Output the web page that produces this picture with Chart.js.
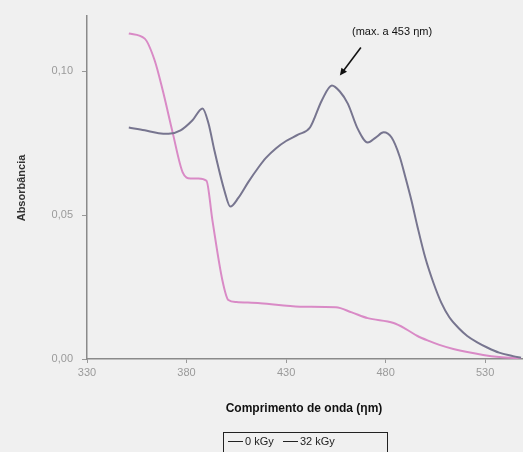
<!DOCTYPE html>
<html>
<head>
<meta charset="utf-8">
<script src="https://cdn.jsdelivr.net/npm/chart.js@4/dist/chart.umd.min.js"></script>
<style>
  html, body { margin: 0; padding: 0; background: #f0f0f0; }
  #wrap { width: 523px; height: 452px; }
</style>
</head>
<body>
<div id="wrap"><canvas id="c" width="523" height="452"></canvas></div>
<script>
// Absorption spectra (wavelength in nm, absorbance)
const wl0kGy = [351, 359, 366, 371, 377, 383, 388, 391, 394, 399, 402, 406, 411, 416, 420, 425, 430, 436, 442, 448, 453, 457, 461, 466, 471, 475, 479, 483, 487, 490, 493, 496, 500, 504, 508, 512, 517, 521, 526, 531, 537, 544, 548];
const abs0kGy = [0.0805, 0.0795, 0.0785, 0.0783, 0.0795, 0.0830, 0.0871, 0.0820, 0.0725, 0.0586, 0.0530, 0.0560, 0.0615, 0.0665, 0.0700, 0.0733, 0.0758, 0.0780, 0.0805, 0.0900, 0.0951, 0.0930, 0.0888, 0.0800, 0.0753, 0.0770, 0.0788, 0.0770, 0.0705, 0.0630, 0.0550, 0.0460, 0.0350, 0.0265, 0.0195, 0.0145, 0.0105, 0.0080, 0.0058, 0.0040, 0.0022, 0.0010, 0.0004];

const wl32kGy = [351, 359, 364, 368, 373, 378, 382, 386, 390, 393, 398, 401, 405, 417, 437, 455, 463, 471, 484, 490, 496, 502, 507, 514, 521, 529, 537, 548];
const abs32kGy = [0.1132, 0.1114, 0.1038, 0.0935, 0.0788, 0.0650, 0.0628, 0.0628, 0.0620, 0.0482, 0.0274, 0.0205, 0.0198, 0.0194, 0.0182, 0.0180, 0.0162, 0.0142, 0.0125, 0.0105, 0.0080, 0.0062, 0.0049, 0.0035, 0.0024, 0.0014, 0.0007, 0.0002];

const xTicks = [330, 380, 430, 480, 530];
const yTicks = [0.00, 0.05, 0.10];
const seriesNames = ['0 kGy', '32 kGy'];
const xTitle = 'Comprimento de onda (\u03b7m)';
const yTitle = 'Absorb\u00e2ncia';
const peakNote = '(max. a 453 \u03b7m)';
const peakWl = 453;
const peakAbs = 0.0951;

const toPoints = (xs, ys) => xs.map((x, i) => ({ x: x, y: ys[i] }));

// Text, arrow and legend drawn on top of the plot
const decorations = {
  id: 'decorations',
  afterDraw(chart) {
    const ctx = chart.ctx;
    const xs = chart.scales.x, ys = chart.scales.y;
    ctx.save();

    // axis titles
    ctx.fillStyle = '#111';
    ctx.font = 'bold 12px "Liberation Sans", Arial, sans-serif';
    ctx.textAlign = 'center';
    ctx.textBaseline = 'middle';
    ctx.fillText(xTitle, 304, 409);
    ctx.save();
    ctx.translate(22, 188);
    ctx.rotate(-Math.PI / 2);
    ctx.font = 'bold 11px "Liberation Sans", Arial, sans-serif';
    ctx.fillStyle = '#333';
    ctx.fillText(yTitle, 0, 0);
    ctx.restore();

    // peak annotation with arrow
    const px = xs.getPixelForValue(peakWl);
    const py = ys.getPixelForValue(peakAbs);
    const tipX = px + 8, tipY = py - 10;
    const tailX = tipX + 21, tailY = tipY - 28;
    ctx.strokeStyle = '#111';
    ctx.fillStyle = '#111';
    ctx.lineWidth = 1.5;
    ctx.beginPath();
    ctx.moveTo(tailX, tailY);
    ctx.lineTo(tipX + 3, tipY - 4);
    ctx.stroke();
    const ang = Math.atan2(tipY - tailY, tipX - tailX);
    ctx.beginPath();
    ctx.moveTo(tipX, tipY);
    ctx.lineTo(tipX - 8 * Math.cos(ang - 0.45), tipY - 8 * Math.sin(ang - 0.45));
    ctx.lineTo(tipX - 8 * Math.cos(ang + 0.45), tipY - 8 * Math.sin(ang + 0.45));
    ctx.closePath();
    ctx.fill();
    ctx.font = '11px "Liberation Sans", Arial, sans-serif';
    ctx.textAlign = 'left';
    ctx.fillText(peakNote, 352, 32);

    // legend box
    ctx.strokeStyle = '#222';
    ctx.lineWidth = 1;
    ctx.strokeRect(223.5, 432.5, 164, 30);
    ctx.font = '11px "Liberation Sans", Arial, sans-serif';
    ctx.textBaseline = 'middle';
    const entries = [[228, seriesNames[0]], [283, seriesNames[1]]];
    entries.forEach(([lx, name]) => {
      ctx.beginPath();
      ctx.moveTo(lx, 441.5);
      ctx.lineTo(lx + 15, 441.5);
      ctx.stroke();
      ctx.fillStyle = '#222';
      ctx.fillText(name, lx + 17, 442);
    });
    ctx.restore();
  }
};

new Chart(document.getElementById('c'), {
  type: 'line',
  data: {
    datasets: [
      {
        label: seriesNames[0],
        data: toPoints(wl0kGy, abs0kGy),
        borderColor: '#77758f',
        borderWidth: 2,
        pointRadius: 0,
        cubicInterpolationMode: 'monotone',
        fill: false
      },
      {
        label: seriesNames[1],
        data: toPoints(wl32kGy, abs32kGy),
        borderColor: '#d98ac6',
        borderWidth: 2,
        pointRadius: 0,
        cubicInterpolationMode: 'monotone',
        fill: false
      }
    ]
  },
  options: {
    responsive: false,
    animation: false,
    devicePixelRatio: 1,
    layout: { padding: { top: 15, right: 0, left: 0, bottom: 0 } },
    plugins: { legend: { display: false }, tooltip: { enabled: false } },
    scales: {
      x: {
        type: 'linear',
        min: 330,
        max: 549,
        afterFit(s) { s.height = 93; },
        afterBuildTicks(s) { s.ticks = xTicks.map(v => ({ value: v })); },
        grid: { drawOnChartArea: false, tickLength: 4, color: '#999' },
        border: { color: '#8a8a8a', width: 1.5 },
        ticks: {
          padding: 3,
          color: '#9a9a9a',
          font: { size: 11, family: '"Liberation Sans", Arial, sans-serif' },
          maxRotation: 0
        }
      },
      y: {
        min: 0,
        max: 0.1194,
        afterFit(s) { s.width = 87; },
        afterBuildTicks(s) { s.ticks = yTicks.map(v => ({ value: v })); },
        grid: { drawOnChartArea: false, tickLength: 5, color: '#999' },
        border: { color: '#8a8a8a', width: 1.5 },
        ticks: {
          padding: 9,
          color: '#9a9a9a',
          font: { size: 11, family: '"Liberation Sans", Arial, sans-serif' },
          callback: v => v.toFixed(2).replace('.', ',')
        }
      }
    }
  },
  plugins: [decorations]
});
</script>
</body>
</html>
